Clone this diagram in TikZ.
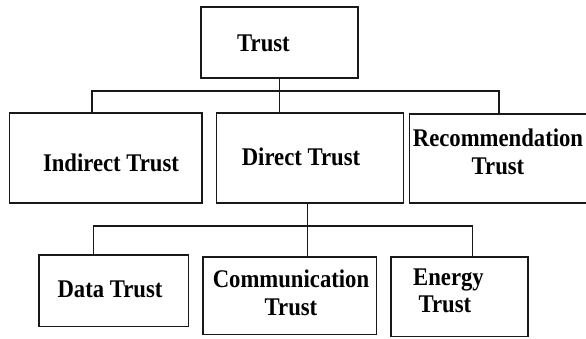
\documentclass[tikz,border=0pt]{standalone}
\usepackage{fontspec}
\usepackage{graphicx}
\setmainfont{Liberation Serif}
% slightly taller letterforms for the box labels
\newcommand{\tallword}[1]{\scalebox{1}[1.12]{#1}}
\begin{document}
\begin{tikzpicture}[x=1pt,y=-1pt,
  box/.style={draw=black!90, line width=1.1pt, rectangle, inner sep=0pt},
  lbl/.style={inner sep=0pt, font=\fontsize{22.7}{27.5}\selectfont\bfseries},
  link/.style={draw=black!90, line width=1.1pt}]
\useasboundingbox (0,0) rectangle (586,338);

% boxes
\node[box, minimum width=157pt, minimum height=71pt] (trust) at (279.5,42.5) {};
\node[box, minimum width=192.5pt, minimum height=90pt] (indirect) at (105.75,158) {};
\node[box, minimum width=187pt, minimum height=90pt] (direct) at (310,158) {};
\node[box, minimum width=182pt, minimum height=89pt] (recom) at (500.5,158.5) {};
\node[box, minimum width=149.7pt, minimum height=71.7pt] (data) at (113.85,290.85) {};
\node[box, minimum width=173.7pt, minimum height=77.3pt] (comm) at (289.85,295.65) {};
\node[box, minimum width=137pt, minimum height=79.7pt] (energy) at (459.5,296.85) {};

% labels
\node[lbl, anchor=base] (tTrust) at (263.5,51.5) {\tallword{Trust}};
\node[lbl, anchor=base] (tIndirect) at (111,171.5) {\tallword{Indirect Trust}};
\node[lbl, anchor=base] (tDirect) at (301,165.5) {\tallword{Direct Trust}};
\node[lbl, align=center] (tRecom) at (498,152) {\tallword{Recommendation}\\\tallword{Trust}};
\node[lbl, anchor=base] (tData) at (110,297.5) {\tallword{Data Trust}};
\node[lbl, align=center] (tComm) at (291,293) {\tallword{Communication}\\\tallword{Trust}};
\node[lbl, align=left, anchor=west] (tEnergy) at (413,291) {\tallword{Energy}\\\hspace*{5.5pt}\tallword{Trust}};

% upper level connectors
\coordinate (b1) at (92,91);
\coordinate (b2) at (499,91);
\draw[link] (trust.south) -- (direct.north -| trust.south);
\draw[link] (indirect.north -| b1) -- (b1) -- (b2) -- (recom.north -| b2);

% lower level connectors
\coordinate (c0) at (307.5,226);
\coordinate (c1) at (93.5,226);
\coordinate (c2) at (472.5,226);
\draw[link] (direct.south -| c0) -- (c0) -- (comm.north -| c0);
\draw[link] (data.north -| c1) -- (c1) -- (c2) -- (energy.north -| c2);
\end{tikzpicture}
\end{document}
